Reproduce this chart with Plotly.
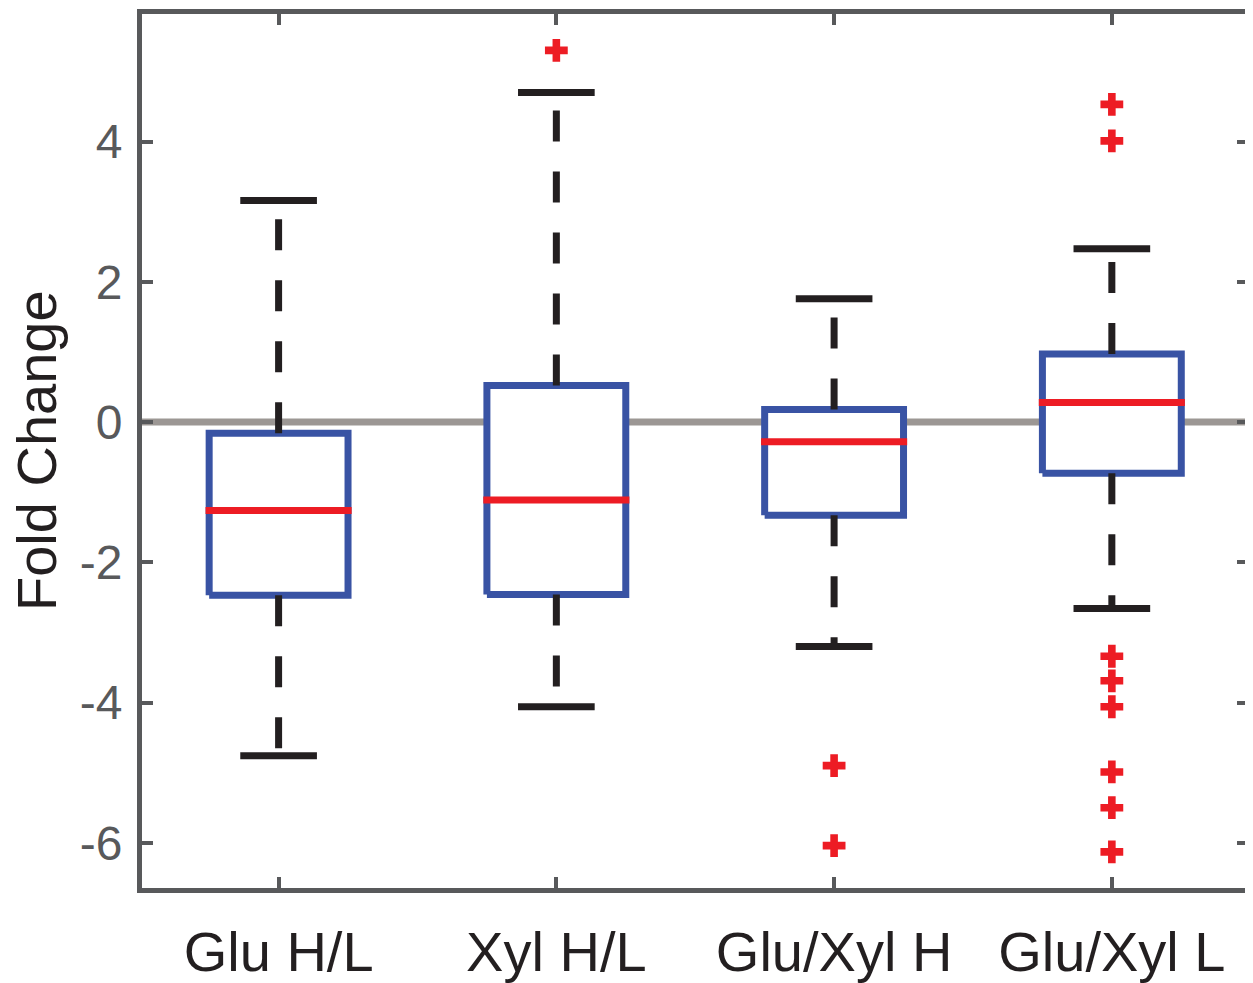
import plotly.graph_objects as go

# ---- data ----
categories = ["Glu H/L", "Xyl H/L", "Glu/Xyl H", "Glu/Xyl L"]
q1 = [-2.47, -2.46, -1.33, -0.73]
medians = [-1.26, -1.11, -0.28, 0.28]
q3 = [-0.16, 0.52, 0.18, 0.97]
lower_whisker = [-4.76, -4.06, -3.20, -2.66]
upper_whisker = [3.16, 4.70, 1.76, 2.47]
outliers = [
    [],
    [5.30],
    [-4.90, -6.04],
    [4.53, 4.01, -3.34, -3.69, -4.06, -4.99, -5.50, -6.13],
]
y_ticks = [-6, -4, -2, 0, 2, 4]
y_tick_labels = ["-6", "-4", "-2", "0", "2", "4"]

# ---- styles ----
BLUE = "#3953a4"
RED = "#ed1c24"
BLACK = "#231f20"
GRAY_LINE = "#9c9794"
AXIS = "#58595b"
FONT = "Liberation Sans, Arial, Helvetica, sans-serif"
LW = 7
BOX_HW = 0.25
CAP_HW = 0.138
MED_HW = 0.263
X_RANGE = [0.5082, 4.4902]
Y_RANGE = [-6.645, 5.819]

positions = list(range(1, len(categories) + 1))

fig = go.Figure()

# zero reference line
fig.add_trace(go.Scatter(x=X_RANGE, y=[0, 0], mode="lines",
                         line=dict(color=GRAY_LINE, width=LW),
                         hoverinfo="skip", showlegend=False))

for i, c in enumerate(positions):
    # box (white filled)
    fig.add_trace(go.Scatter(
        x=[c - BOX_HW, c + BOX_HW, c + BOX_HW, c - BOX_HW, c - BOX_HW],
        y=[q1[i], q1[i], q3[i], q3[i], q1[i]],
        mode="lines", fill="toself", fillcolor="white",
        line=dict(color=BLUE, width=LW), hoverinfo="skip", showlegend=False))
    # whiskers (dashed, starting at box edge)
    fig.add_trace(go.Scatter(x=[c, c], y=[q3[i], upper_whisker[i]], mode="lines",
                             line=dict(color=BLACK, width=LW, dash="31px,30px"),
                             hoverinfo="skip", showlegend=False))
    fig.add_trace(go.Scatter(x=[c, c], y=[q1[i], lower_whisker[i]], mode="lines",
                             line=dict(color=BLACK, width=LW, dash="31px,30px"),
                             hoverinfo="skip", showlegend=False))
    # caps
    fig.add_trace(go.Scatter(x=[c - CAP_HW, c + CAP_HW, None, c - CAP_HW, c + CAP_HW],
                             y=[upper_whisker[i], upper_whisker[i], None,
                                lower_whisker[i], lower_whisker[i]],
                             mode="lines", line=dict(color=BLACK, width=LW),
                             hoverinfo="skip", showlegend=False))
    # median
    fig.add_trace(go.Scatter(x=[c - MED_HW, c + MED_HW], y=[medians[i], medians[i]],
                             mode="lines", line=dict(color=RED, width=LW),
                             hoverinfo="skip", showlegend=False))
    # outliers
    if outliers[i]:
        fig.add_trace(go.Scatter(x=[c] * len(outliers[i]), y=outliers[i], mode="markers",
                                 marker=dict(symbol="cross", size=19, color=RED,
                                             line=dict(width=0)),
                                 hoverinfo="skip", showlegend=False))

fig.update_layout(
    width=1245, height=975,
    margin=dict(l=134, r=5, t=5.5, b=94.5, autoexpand=False),
    paper_bgcolor="white", plot_bgcolor="white",
    font=dict(family=FONT),
    showlegend=False,
    xaxis=dict(range=X_RANGE, tickvals=positions, ticktext=categories,
               showgrid=False, zeroline=False, showline=True, mirror="ticks",
               linecolor=AXIS, linewidth=5, ticks="inside", ticklen=11,
               tickwidth=4, tickcolor=AXIS, automargin=False,
               tickfont=dict(size=56, color=BLACK, family=FONT),
               ticklabelstandoff=11),
    yaxis=dict(range=Y_RANGE, tickvals=y_ticks, ticktext=y_tick_labels,
               showgrid=False, zeroline=False, showline=True, mirror="ticks",
               linecolor=AXIS, linewidth=5, ticks="inside", ticklen=11,
               tickwidth=4, tickcolor=AXIS, automargin=False,
               tickfont=dict(size=48, color=AXIS, family=FONT),
               ticklabelstandoff=5),
    annotations=[dict(text="Fold Change", xref="paper", yref="paper", x=0, y=0.5,
                      xanchor="center", yanchor="middle", xshift=-106,
                      textangle=-90, showarrow=False,
                      font=dict(size=56, color=BLACK, family=FONT))],
)

fig.write_html("out.html")
